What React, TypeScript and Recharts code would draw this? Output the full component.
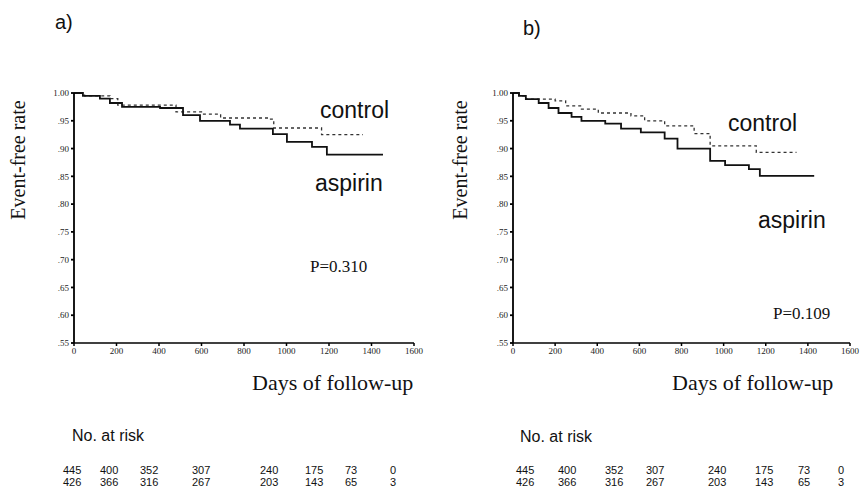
import { Line, LineChart, XAxis, YAxis } from "recharts";

// panel a) — Kaplan-Meier steps [day, rate]
const aspirinA = [
  [0, 1.0], [42, 0.995], [122, 0.99], [169, 0.982], [226, 0.975], [405, 0.973],
  [513, 0.96], [593, 0.95], [734, 0.943], [781, 0.936], [936, 0.926], [1002, 0.912],
  [1120, 0.903], [1190, 0.889], [1454, 0.889],
];
const controlA = [
  [0, 1.0], [50, 0.995], [169, 0.99], [206, 0.978], [480, 0.966], [600, 0.962],
  [690, 0.955], [910, 0.953], [940, 0.937], [1165, 0.925], [1360, 0.925],
];

// panel b)
const aspirinB = [
  [0, 1.0], [28, 0.995], [61, 0.989], [122, 0.982], [169, 0.973], [216, 0.964],
  [278, 0.957], [325, 0.95], [438, 0.945], [513, 0.936], [607, 0.929], [720, 0.918],
  [781, 0.9], [936, 0.878], [1007, 0.87], [1120, 0.863], [1172, 0.851], [1430, 0.851],
];
const controlB = [
  [0, 1.0], [30, 0.995], [61, 0.989], [200, 0.986], [250, 0.977], [325, 0.971],
  [405, 0.964], [560, 0.959], [625, 0.95], [720, 0.941], [860, 0.927], [936, 0.905],
  [1155, 0.893], [1346, 0.893],
];

const xTicks = [0, 200, 400, 600, 800, 1000, 1200, 1400, 1600];
const yTicks = [1.0, 0.95, 0.9, 0.85, 0.8, 0.75, 0.7, 0.65, 0.6, 0.55];

const atRiskAspirin = ["445", "400", "352", "307", "240", "175", "73", "0"];
const atRiskControl = ["426", "366", "316", "267", "203", "143", "65", "3"];

const serif = "'Liberation Serif', 'DejaVu Serif', serif";
const sans = "'Liberation Sans', Arial, sans-serif";

const toRows = (pts: number[][]) => pts.map(([day, rate]) => ({ day, rate }));
const fmtY = (v: number) => (v >= 1 ? "1.00" : v.toFixed(2).slice(1));

type PanelProps = {
  left: number;
  width: number;
  marginLeft: number;
  marginRight: number;
  aspirin: number[][];
  control: number[][];
};

const Panel = ({ left, width, marginLeft, marginRight, aspirin, control }: PanelProps) => (
  <div style={{ position: "absolute", left, top: 0 }}>
    <LineChart
      width={width}
      height={370}
      margin={{ top: 93, right: marginRight, bottom: 7, left: marginLeft }}
    >
      <XAxis
        type="number"
        dataKey="day"
        domain={[0, 1600]}
        ticks={xTicks}
        interval={0}
        height={20}
        tick={{ fill: "#222", fontSize: 9, fontFamily: serif }}
        tickSize={3}
        stroke="#000"
        strokeWidth={1.5}
      />
      <YAxis
        type="number"
        domain={[0.55, 1.0]}
        ticks={yTicks}
        interval={0}
        width={44}
        tickFormatter={fmtY}
        tick={{ fill: "#222", fontSize: 9, fontFamily: serif }}
        tickSize={3}
        stroke="#000"
        strokeWidth={1.8}
      />
      <Line
        data={toRows(control)}
        dataKey="rate"
        type="stepAfter"
        stroke="#333"
        strokeWidth={1.3}
        strokeDasharray="3 3"
        dot={false}
        isAnimationActive={false}
      />
      <Line
        data={toRows(aspirin)}
        dataKey="rate"
        type="stepAfter"
        stroke="#111"
        strokeWidth={1.8}
        dot={false}
        isAnimationActive={false}
      />
    </LineChart>
  </div>
);

const Txt = ({ x, y, size, font, children, rotate }: any) => (
  <div
    style={{
      position: "absolute",
      left: x,
      top: y,
      fontSize: size,
      fontFamily: font,
      color: "#111",
      whiteSpace: "nowrap",
      lineHeight: 1,
      transform: rotate ? "translate(-50%, -50%) rotate(-90deg)" : undefined,
    }}
  >
    {children}
  </div>
);

const colsA = [63, 100, 140, 192, 260, 305, 345, 390];
const colsB = [516, 558, 605, 646, 708, 755, 798, 838];

const AtRisk = ({ cols }: { cols: number[] }) => (
  <>
    {atRiskAspirin.map((v, i) => (
      <Txt key={"a" + i} x={cols[i]} y={465} size={11} font={sans}>{v}</Txt>
    ))}
    {atRiskControl.map((v, i) => (
      <Txt key={"c" + i} x={cols[i]} y={477} size={11} font={sans}>{v}</Txt>
    ))}
  </>
);

export default function App() {
  return (
    <div style={{ position: "absolute", left: 0, top: 0, width: 860, height: 495, background: "#fff", overflow: "hidden" }}>
      <Panel left={0} width={430} marginLeft={30} marginRight={16} aspirin={aspirinA} control={controlA} />
      <Panel left={440} width={420} marginLeft={29} marginRight={10} aspirin={aspirinB} control={controlB} />

      <Txt x={55} y={12} size={20} font={sans}>a)</Txt>
      <Txt x={523} y={18} size={20} font={sans}>b)</Txt>

      <Txt x={18} y={160} size={20} font={serif} rotate>Event-free rate</Txt>
      <Txt x={460} y={160} size={20} font={serif} rotate>Event-free rate</Txt>

      <Txt x={320} y={99} size={23} font={sans}>control</Txt>
      <Txt x={315} y={172} size={23} font={sans}>aspirin</Txt>
      <Txt x={728} y={112} size={23} font={sans}>control</Txt>
      <Txt x={758} y={209} size={23} font={sans}>aspirin</Txt>

      <Txt x={310} y={258} size={17} font={serif}>P=0.310</Txt>
      <Txt x={773} y={305} size={17} font={serif}>P=0.109</Txt>

      <Txt x={252} y={372} size={22} font={serif}>Days of follow-up</Txt>
      <Txt x={672} y={372} size={22} font={serif}>Days of follow-up</Txt>

      <Txt x={72} y={428} size={16} font={sans}>No. at risk</Txt>
      <Txt x={520} y={429} size={16} font={sans}>No. at risk</Txt>

      <AtRisk cols={colsA} />
      <AtRisk cols={colsB} />
    </div>
  );
}
